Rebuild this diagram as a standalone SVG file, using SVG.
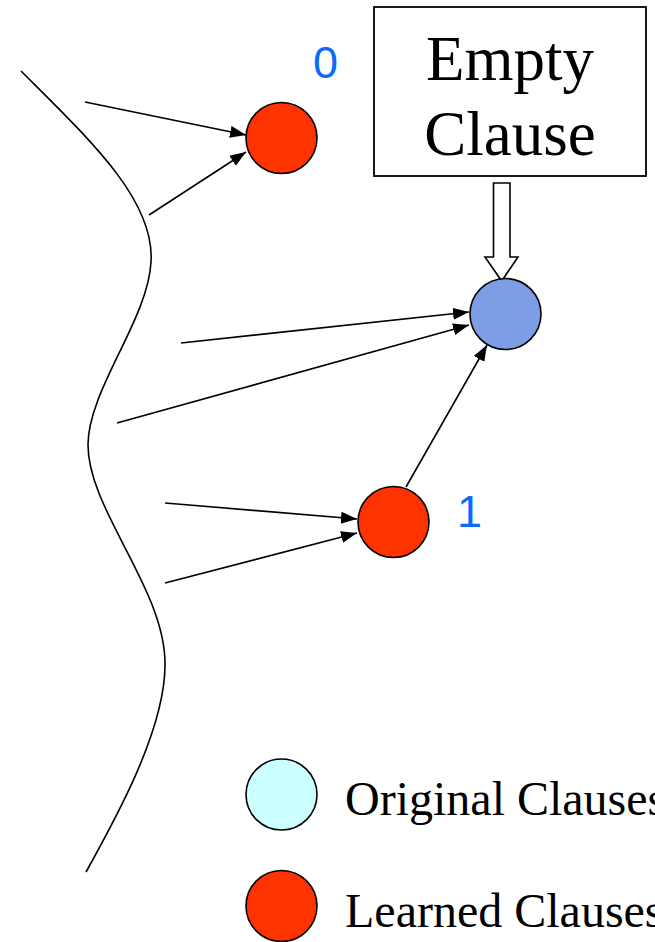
<svg xmlns="http://www.w3.org/2000/svg" width="655" height="942" viewBox="0 0 655 942">
  <style>
    .edge { stroke: #000; stroke-width: 1.6; fill: none; marker-end: url(#head); }
    .node { stroke: #000; stroke-width: 1.6; }
    .learned { fill: #ff3300; }
    .empty { fill: #7d9de5; }
    .original { fill: #ccffff; }
    .serif { font-family: "Liberation Serif", "Times New Roman", serif; fill: #000; }
    .num { font-family: "Liberation Sans", Arial, sans-serif; font-size: 45px; fill: #0a6aff; }
  </style>
  <defs>
    <marker id="head" markerUnits="userSpaceOnUse" markerWidth="17" markerHeight="13" refX="16" refY="6" orient="auto">
      <path d="M0,0 L16,6 L0,12 z" fill="#000"/>
    </marker>
  </defs>
  <rect width="655" height="942" fill="#fff"/>

  <!-- boundary of the original clause set -->
  <path id="boundary" d="M21,71 C90,140 155,200 151,262 C148,320 88,390 88,445 C88,510 166,590 165,665 C165,730 115,820 86,872" fill="none" stroke="#000" stroke-width="1.6"/>

  <g id="connectors">
    <line class="edge" x1="85" y1="102" x2="246" y2="135"/>
    <line class="edge" x1="149" y1="215" x2="246" y2="152"/>
    <line class="edge" x1="181" y1="343" x2="469" y2="312"/>
    <line class="edge" x1="117" y1="423" x2="469" y2="325"/>
    <line class="edge" x1="406" y1="487" x2="487" y2="345"/>
    <line class="edge" x1="165" y1="503" x2="357" y2="519"/>
    <line class="edge" x1="165" y1="583" x2="357" y2="533"/>
    <!-- hollow block arrow from the label box -->
    <path d="M493.5,183 L510,183 L510,257 L518,257 L501.7,281 L485,257 L493.5,257 z" fill="#fff" stroke="#000" stroke-width="1.6"/>
  </g>

  <g id="empty-clause-label">
    <rect x="374" y="7" width="272" height="169" fill="#fff" stroke="#000" stroke-width="1.8"/>
    <text class="serif" x="510" y="80" font-size="63" text-anchor="middle">Empty</text>
    <text class="serif" x="510" y="155" font-size="63" text-anchor="middle">Clause</text>
  </g>

  <g id="node-0">
    <circle class="node learned" cx="281.5" cy="138" r="35.5"/>
    <text class="num" x="313" y="78">0</text>
  </g>

  <g id="node-empty">
    <circle class="node empty" cx="505.5" cy="314" r="35.5"/>
  </g>

  <g id="node-1">
    <circle class="node learned" cx="393.5" cy="522" r="35.5"/>
    <text class="num" x="457" y="527">1</text>
  </g>

  <g id="legend-original">
    <circle class="node original" cx="281.5" cy="794.5" r="35.5"/>
    <text class="serif" x="345" y="815" font-size="48">Original Clauses</text>
  </g>

  <g id="legend-learned">
    <circle class="node learned" cx="281.5" cy="906" r="35.5"/>
    <text class="serif" x="345" y="927" font-size="48">Learned Clauses</text>
  </g>
</svg>
